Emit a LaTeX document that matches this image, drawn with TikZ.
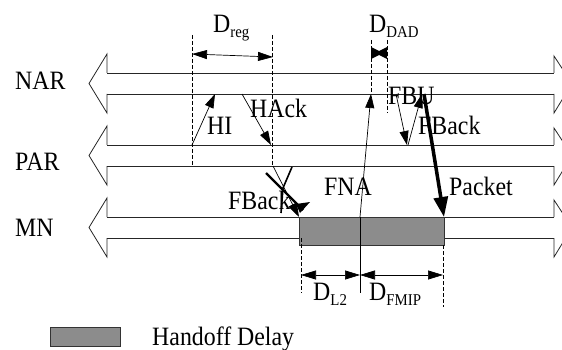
\documentclass[tikz,border=0pt]{standalone}
\usepackage{fontspec}
\setmainfont[FakeStretch=0.9]{Liberation Serif}
\usetikzlibrary{arrows.meta}
\newcommand{\Dlab}[1]{D\raisebox{-5pt}{\fontsize{16.5pt}{16.5pt}\selectfont #1}}
\begin{document}
\begin{tikzpicture}[x=1pt,y=-1pt,
 band/.style={line width=0.8pt, black!85},
 msg/.style={line width=0.7pt, -{Triangle[length=14pt,width=9pt]}},
 dimarr/.style={line width=0.7pt, {Triangle[length=15pt,width=9pt]}-{Triangle[length=15pt,width=9pt]}},
 guide/.style={line width=0.7pt, dash pattern=on 4pt off 2pt},
 lbl/.style={anchor=base west, inner sep=0pt, font=\fontsize{26.5pt}{26.5pt}\selectfont},
 delaybox/.style={fill=black!45, draw=black!80, line width=0.8pt},
]
\useasboundingbox (0,0) rectangle (562,350);
\clip (0,0) rectangle (562,350);

% bands (double-headed hollow arrows)
\foreach \t/\b in {73/94,145/166,217/238}{
  \draw[band] (107,\t) -- (107,\t-19) -- (89,{(\t+\b)/2}) -- (107,\b+19) -- (107,\b);
  \draw[band] (554,\t) -- (554,\t-17) -- (572,{(\t+\b)/2}) -- (554,\b+19) -- (554,\b);
  \draw[band] (107,\t) -- (554,\t);
  \draw[band] (107,\b) -- (554,\b);
}

% entity labels
\node[lbl] (nar) at (15,90) {NAR};
\node[lbl] (par) at (15,171) {PAR};
\node[lbl] (mn) at (15,236) {MN};

% handoff delay box
\node[delaybox, minimum width=145pt, minimum height=28pt, inner sep=0pt, anchor=north west] (hd) at (299,217) {};

% coordinates
\coordinate (g1t) at (192,35);  \coordinate (g1b) at (192,166);
\coordinate (g2t) at (272,35);  \coordinate (g2b) at (272,166);
\coordinate (g3t) at (371,40);  \coordinate (g3b) at (371,94);
\coordinate (g4t) at (387,40);  \coordinate (g4b) at (387,113);
\coordinate (g5t) at (301,238); \coordinate (g5b) at (301,293);
\coordinate (g6t) at (443,245); \coordinate (g6b) at (443,307);
\coordinate (s1t) at (360,217); \coordinate (s1b) at (360,293);

% dashed guides
\draw[guide] (g1t) -- (g1b);
\draw[guide] (g2t) -- (g2b);
\draw[guide] (g3t) -- (g3b);
\draw[guide] (g4t) -- (g4b);
\draw[guide] (g5t) -- (g5b);
\draw[guide] (g6t) -- (g6b);
\draw[line width=0.7pt] (s1t) -- (s1b);

% dimension arrows
\coordinate (r1) at (192,54); \coordinate (r2) at (273,57);
\draw[dimarr] (r1) -- (r2);
\coordinate (l1) at (301,275); \coordinate (l2) at (360,275); \coordinate (l3) at (443,275);
\draw[dimarr] (l1) -- (l2);
\draw[dimarr] (l2) -- (l3);
\fill (371,47) -- (379,51) -- (387,47) -- (387,59) -- (379,55) -- (371,59) -- cycle;

% dimension labels
\node[lbl] (dreg) at (213,33) {\Dlab{reg}};
\node[lbl] (ddad) at (369,33) {\Dlab{DAD}};
\node[lbl] (dl2) at (313,300) {\Dlab{L2}};
\node[lbl] (dfmip) at (369,300) {\Dlab{FMIP}};

% messages
\coordinate (hi1) at (192,145); \coordinate (hi2) at (215,94);
\draw[msg] (hi1) -- (hi2);
\coordinate (ha1) at (242,94); \coordinate (ha2) at (271,145);
\draw[msg] (ha1) -- (ha2);
\coordinate (fna1) at (360,217); \coordinate (fna2) at (371,94);
\draw[msg] (fna1) -- (fna2);
\coordinate (fbk1) at (396,94); \coordinate (fbk2) at (407,145);
\draw[msg] (fbk1) -- (fbk2);
\coordinate (fbu1) at (408,145); \coordinate (fbu2) at (422,94);
\draw[msg] (fbu1) -- (fbu2);
\coordinate (pk1) at (424,94); \coordinate (pk2) at (444,217);
\draw[line width=3.5pt, -{Triangle[length=20pt,width=14pt]}] (pk1) -- (pk2);
\coordinate (fb1) at (273,166); \coordinate (fb2) at (299,217);
\draw[msg] (fb1) -- (fb2);

% cross mark over lower FBack
\draw[line width=2.2pt] (266,173) -- (303,210);
\draw[line width=1.6pt] (292,167) -- (283,188) -- (281,213);
\fill (296,204) -- (310,202) -- (300,213) -- cycle;

% message labels
\node[lbl] (lhi) at (207,135) {HI};
\node[lbl] (lha) at (250,118) {HAck};
\node[lbl] (lfbu) at (388,105) {FBU};
\node[lbl] (lfbk) at (418,135) {FBack};
\node[lbl] (lfna) at (324,195) {FNA};
\node[lbl] (lpk) at (449,195) {Packet};
\node[lbl] (lfb) at (228,209) {FBack};

% legend
\node[delaybox, minimum width=70pt, minimum height=19pt, inner sep=0pt, anchor=north west] (leg) at (50,327) {};
\node[lbl] (legt) at (152,345) {Handoff Delay};
\end{tikzpicture}
\end{document}
